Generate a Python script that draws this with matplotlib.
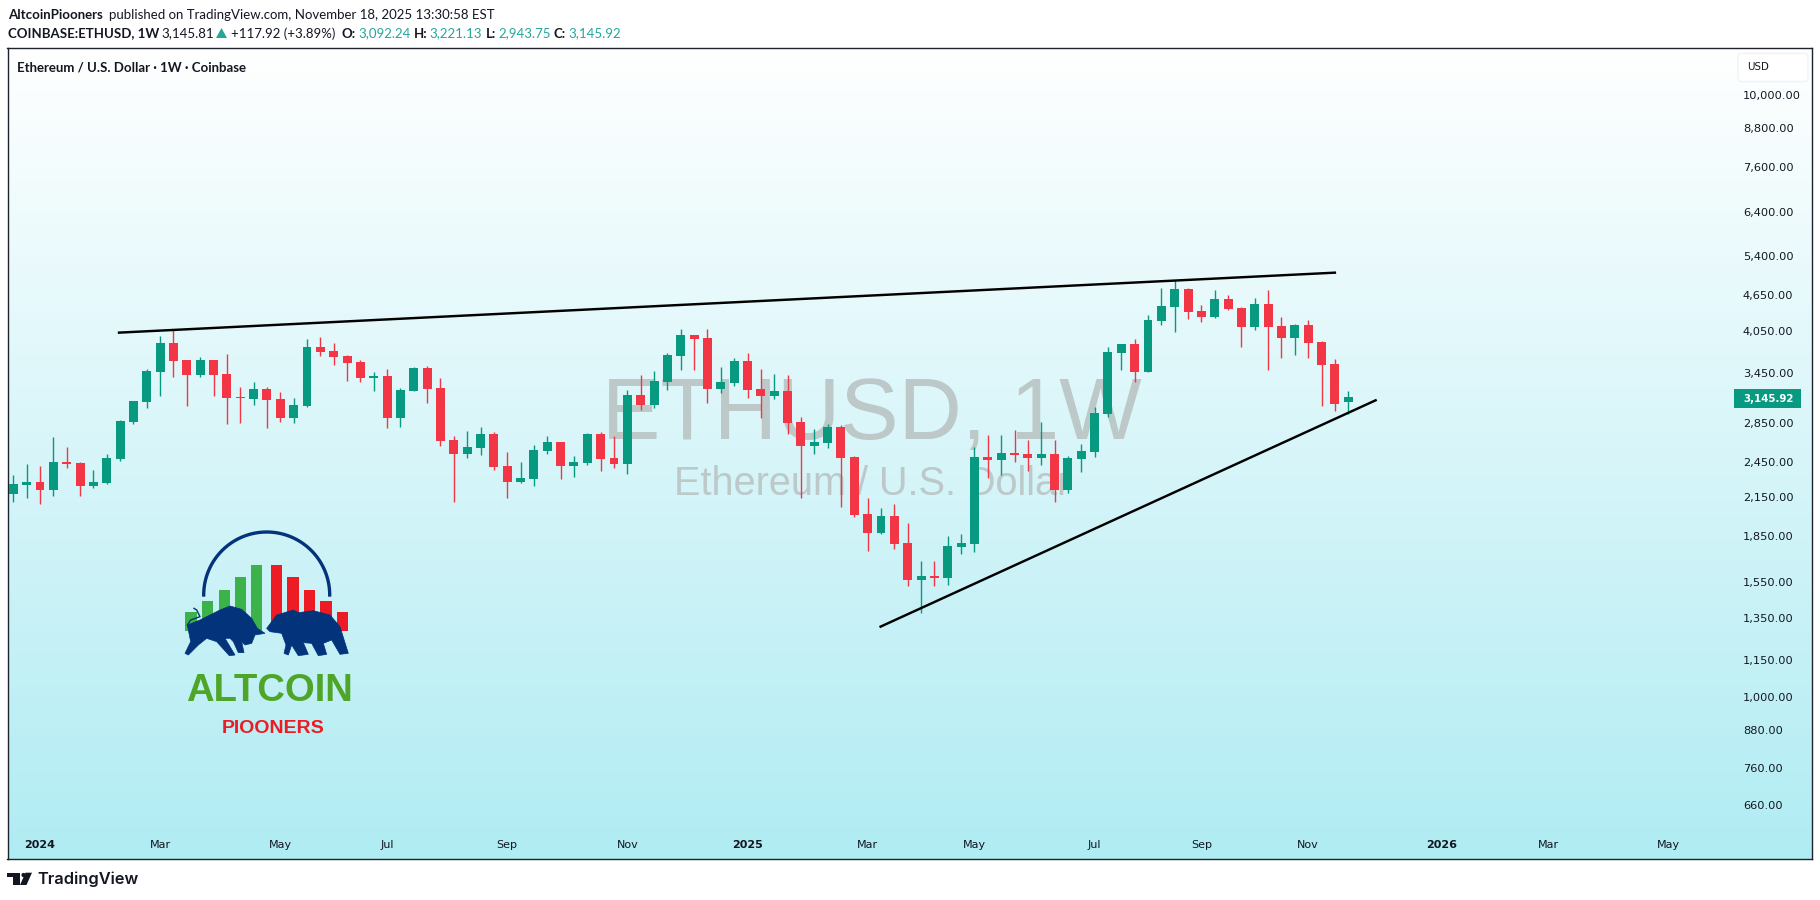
import matplotlib
matplotlib.use('Agg')
import matplotlib.pyplot as plt
import numpy as np
from matplotlib.colors import LinearSegmentedColormap
from matplotlib.patches import FancyBboxPatch, Polygon, Rectangle, Circle

opens = [2172, 2247, 2273, 2205, 2454, 2445, 2239, 2265, 2482, 2860, 3088, 3465, 3871, 3627, 3425, 3627, 3438,
         3147, 3124, 3245, 3124, 2905, 3040, 3813, 3754, 3684, 3600, 3386, 3412, 2905, 3221, 3518, 3258, 2670,
         2534, 2590, 2732, 2417, 2273, 2300, 2560, 2650, 2417, 2445, 2732, 2492, 2436, 3172, 3053, 3335, 3684,
         3994, 3945, 3245, 3322, 3613, 3245, 3160, 3221, 2860, 2610, 2640, 2806, 2502, 2011, 1870, 1996, 1800,
         1562, 1586, 1574, 1772, 1793, 2502, 2473, 2541, 2534, 2492, 2534, 2205, 2482, 2553, 2947, 3725, 3858,
         3465, 4211, 4442, 4759, 4375, 4275, 4580, 4425, 4116, 4494, 4132, 3945, 4148, 3885, 3573, 3092.24]
highs = [2335, 2436, 2417, 2698, 2600, 2454, 2380, 2534, 2882, 3100, 3504, 3975, 4068, 3627, 3669, 3627, 3711,
         3271, 3335, 3271, 3208, 3136, 3930, 3960, 3871, 3697, 3627, 3465, 3504, 3258, 3532, 3545, 3386, 2708,
         2764, 2806, 2753, 2553, 2454, 2620, 2708, 2650, 2513, 2742, 2753, 2708, 3233, 3425, 3478, 3725, 4084,
         3994, 4084, 3532, 3655, 3725, 3504, 3438, 3425, 2917, 2785, 2839, 2828, 2513, 2138, 2058, 2090, 1944,
         1680, 1680, 1849, 1862, 2600, 2722, 2722, 2774, 2670, 2860, 2670, 2513, 2630, 3030, 3813, 3858, 3930,
         4308, 4777, 4926, 4777, 4476, 4741, 4651, 4442, 4598, 4741, 4275, 4163, 4227, 3900, 3641, 3221.13]
lows = [2106, 2138, 2090, 2155, 2399, 2155, 2222, 2256, 2464, 2839, 3018, 3160, 3394, 3040, 3394, 3160, 2839,
        2850, 3058, 2796, 2860, 2850, 3030, 3684, 3560, 3347, 3335, 3221, 2796, 2806, 3221, 3077, 2610, 2106,
        2492, 2523, 2380, 2138, 2265, 2239, 2534, 2300, 2318, 2426, 2371, 2399, 2344, 2995, 3018, 3233, 3491,
        3491, 3077, 3196, 3284, 3136, 2905, 3124, 2732, 2138, 2534, 2590, 2066, 1985, 1745, 1862, 1759, 1527,
        1377, 1527, 1532, 1725, 1739, 2309, 2335, 2454, 2371, 2426, 2106, 2180, 2362, 2502, 2917, 3491, 3335,
        3465, 4148, 4037, 4243, 4195, 4259, 4392, 3813, 4068, 3491, 3655, 3697, 3655, 3040, 2983, 2943.75]
closes = [2255, 2273, 2205, 2454, 2436, 2239, 2273, 2492, 2871, 3100, 3478, 3871, 3613, 3425, 3627, 3425, 3136,
          3136, 3245, 3112, 2905, 3053, 3813, 3739, 3669, 3586, 3386, 3412, 2905, 3233, 3518, 3245, 2660, 2534,
          2600, 2732, 2408, 2273, 2309, 2570, 2650, 2417, 2454, 2732, 2482, 2436, 3172, 3053, 3347, 3697, 3994,
          3930, 3245, 3335, 3613, 3233, 3160, 3221, 2850, 2610, 2650, 2806, 2492, 2004, 1870, 1996, 1793, 1562,
          1586, 1574, 1779, 1800, 2502, 2473, 2541, 2523, 2492, 2534, 2205, 2492, 2560, 2960, 3739, 3858, 3465,
          4227, 4459, 4759, 4358, 4275, 4580, 4408, 4116, 4494, 4116, 3945, 4148, 3871, 3560, 3070, 3145.92]

price_ticks = [10000, 8800, 7600, 6400, 5400, 4650, 4050, 3450, 2850, 2450, 2150, 1850, 1550, 1350, 1150, 1000,
               880, 760, 660]
time_ticks = [2, 11, 20, 28, 37, 46, 55, 64, 72, 81, 89, 97, 107, 115, 124]
time_labels = ['2024', 'Mar', 'May', 'Jul', 'Sep', 'Nov', '2025', 'Mar', 'May', 'Jul', 'Sep', 'Nov', '2026', 'Mar',
               'May']

# trend lines, week index and price at both ends
upper_line_x = [7.92, 99.0]
upper_line_y = [4027, 5066]
lower_line_x = [64.97, 102.05]
lower_line_y = [1307, 3108]

UP = '#089981'
DOWN = '#f23645'
INK = '#131722'
TEAL = '#26a69a'
NAVY = '#03337a'
HEAD_FONT = 'Lato'
AXIS_FONT = 'DejaVu Sans'

W, H = 1820, 900
LEFT, RIGHT, TOP, BOTTOM = 7.5, 1812, 48, 859


def draw_background(fig, rect):
    bg = fig.add_axes(rect, zorder=0)
    cmap = LinearSegmentedColormap.from_list('bg', ['#ffffff', '#b0ecf3'])
    bg.imshow(np.linspace(0, 1, 256).reshape(-1, 1), cmap=cmap, aspect='auto')
    bg.set_axis_off()


def draw_candles(ax):
    x = np.arange(len(opens))
    o, h, l, c = map(np.array, (opens, highs, lows, closes))
    colors = [UP if b >= a else DOWN for a, b in zip(o, c)]
    ax.vlines(x, l, h, colors=colors, linewidth=1.0, zorder=3)
    ax.bar(x, np.abs(c - o), bottom=np.minimum(o, c), width=0.67, color=colors, linewidth=0, zorder=4)


def draw_text_row(ov):
    size = 9.5
    ov.text(7.6, 15, 'AltcoinPiooners', fontsize=size, fontweight='bold', va='center', color=INK)
    ov.text(109, 15, 'published on TradingView.com, November 18, 2025 13:30:58 EST', fontsize=size, va='center',
            color=INK)
    row = [(7.6, 'COINBASE:ETHUSD, 1W', True, INK), (161, '3,145.81', False, INK),
           (231, '+117.92 (+3.89%)', False, INK), (342, 'O:', True, INK), (358, '3,092.24', False, TEAL),
           (414, 'H:', True, INK), (429, '3,221.13', False, TEAL), (486, 'L:', True, INK),
           (498, '2,943.75', False, TEAL), (554, 'C:', True, INK), (568, '3,145.92', False, TEAL)]
    for x, s, bold, color in row:
        ov.text(x, 33.5, s, fontsize=size, fontweight='bold' if bold else 'normal', va='center', color=color)
    ov.add_patch(Polygon([(216, 38), (227, 38), (221.5, 28)], color=TEAL, linewidth=0))
    ov.text(17, 67, 'Ethereum / U.S. Dollar · 1W · Coinbase', fontsize=size, fontweight='bold', va='center',
            color=INK)


def draw_price_boxes(ov):
    ov.add_patch(FancyBboxPatch((1738, 53.5), 70, 28, boxstyle='round,pad=0,rounding_size=3', facecolor='#ffffff',
                                edgecolor='#f0f3fa', linewidth=1, mutation_aspect=1))
    ov.text(1747, 67.5, 'USD', fontsize=7.4, family=AXIS_FONT, va='center', color=INK)
    ov.add_patch(Rectangle((1734, 389), 66.7, 19, color=UP, linewidth=0))
    ov.text(1743, 398.5, '3,145.92', fontsize=7.4, fontweight='bold', family=AXIS_FONT, va='center', color='white')


def draw_logo(ov):
    def zx(v):
        return 170 + np.asarray(v) / 3

    def zy(v):
        return 520 + np.asarray(v) / 3

    greens = [(46, 277), (96, 243), (146, 209), (195, 170), (243, 136)]
    reds = [(303, 136), (352, 170), (402, 209), (451, 243), (501, 277)]
    for z_left, z_top in greens:
        ov.add_patch(Rectangle((zx(z_left), zy(z_top)), 11.3, (332 - z_top) / 3, color='#3cb24a', linewidth=0))
    for z_left, z_top in reds:
        ov.add_patch(Rectangle((zx(z_left), zy(z_top)), 11.3, (332 - z_top) / 3, color='#ed1c24', linewidth=0))

    theta = np.linspace(np.pi, 2 * np.pi, 80)
    ov.plot(266.7 + 63 * np.cos(theta), 595 + 63 * np.sin(theta), color=NAVY, linewidth=2.4)

    bull = [(52, 315), (90, 300), (150, 270), (180, 258), (215, 268), (245, 295), (262, 325), (285, 340), (255, 345),
            (245, 370), (225, 375), (215, 365), (222, 398), (205, 398), (190, 365), (180, 355), (165, 355),
            (195, 405), (178, 407), (140, 365), (110, 355), (85, 375), (55, 405), (45, 400), (62, 365), (55, 330)]
    bear = [(290, 325), (320, 285), (370, 270), (385, 278), (430, 272), (480, 285), (510, 320), (535, 400),
            (510, 403), (485, 360), (460, 370), (470, 403), (445, 407), (425, 370), (400, 368), (415, 403),
            (385, 407), (365, 375), (355, 405), (342, 400), (348, 375), (335, 340), (300, 335)]
    for shape in (bull, bear):
        pts = [(zx(a), zy(b)) for a, b in shape]
        ov.add_patch(Polygon(pts, facecolor=NAVY, edgecolor=NAVY, linewidth=0.5, zorder=3))
    ov.plot(zx([52, 62, 90, 80, 72]), zy([315, 300, 290, 270, 265]), color=NAVY, linewidth=1, zorder=3)

    ov.text(269, 701, 'ALTCOIN', fontsize=27.5, fontweight='bold', family='Liberation Sans', ha='center',
            va='baseline', color='#4fa528')
    ov.text(273, 733, 'PIOONERS', fontsize=14, fontweight='bold', family='Liberation Sans', ha='center',
            va='baseline', color='#ed1c24')


def draw_footer(ov):
    ov.add_patch(Polygon([(7.3, 872.7), (20, 872.7), (20, 885), (13.3, 885), (13.3, 877), (7.3, 877)], color=INK,
                         linewidth=0))
    ov.add_patch(Circle((23.5, 875), 2.1, color=INK, linewidth=0))
    ov.add_patch(Polygon([(25.5, 872.7), (32, 872.7), (26.5, 885), (20, 885)], color=INK, linewidth=0))
    ov.text(37, 879.5, 'TradingView', fontsize=11.8, fontweight='semibold', family='Inter', va='center', color=INK)


def main():
    plt.rcParams['font.family'] = [HEAD_FONT, 'DejaVu Sans']
    fig = plt.figure(figsize=(W / 100, H / 100), dpi=100, facecolor='white')
    rect = [LEFT / W, (H - BOTTOM) / H, (RIGHT - LEFT) / W, (BOTTOM - TOP) / H]

    draw_background(fig, rect)

    ax = fig.add_axes(rect, zorder=1)
    ax.patch.set_alpha(0)
    ax.set_yscale('log')
    ax.set_xlim(-0.434, 134.74)
    ax.set_ylim(537, 11971)

    ax.text(0.4791, 0.5175, 'ETHUSD, 1W', transform=ax.transAxes, fontsize=63, family='Liberation Sans', ha='center',
            va='baseline', color='#bdc8c9', zorder=1)
    ax.text(0.4791, 0.4486, 'Ethereum / U.S. Dollar', transform=ax.transAxes, fontsize=28.5, family='Liberation Sans',
            ha='center', va='baseline', color='#bdc8c9', zorder=1)

    draw_candles(ax)
    ax.plot(upper_line_x, upper_line_y, color='black', linewidth=1.75, zorder=5)
    ax.plot(lower_line_x, lower_line_y, color='black', linewidth=1.75, zorder=5)

    ax.set_yticks(price_ticks)
    ax.set_yticklabels(['{:,.2f}'.format(p) for p in price_ticks])
    ax.minorticks_off()
    ax.yaxis.tick_right()
    ax.tick_params(axis='y', length=0, pad=-49.7, labelsize=8.2, labelcolor=INK, labelfontfamily=AXIS_FONT)
    ax.set_xticks(time_ticks)
    ax.set_xticklabels(time_labels)
    ax.tick_params(axis='x', length=0, pad=-14, labelsize=8, labelcolor=INK, labelfontfamily=AXIS_FONT)
    for label in ax.get_xticklabels():
        if label.get_text().isdigit():
            label.set_fontweight('bold')
    for spine in ax.spines.values():
        spine.set_color('#1e222d')
        spine.set_linewidth(1.0)

    ov = fig.add_axes([0, 0, 1, 1], zorder=2)
    ov.set_xlim(0, W)
    ov.set_ylim(H, 0)
    ov.patch.set_alpha(0)
    ov.set_axis_off()
    draw_text_row(ov)
    draw_price_boxes(ov)
    draw_logo(ov)
    draw_footer(ov)

    fig.savefig('out.png', dpi=100)


if __name__ == '__main__':
    main()
